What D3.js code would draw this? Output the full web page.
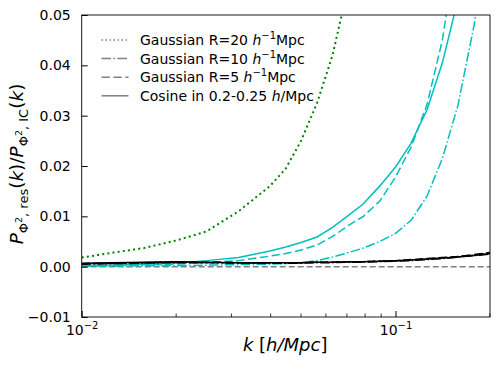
<!DOCTYPE html>
<html>
<head>
<meta charset="utf-8">
<script src="https://cdn.jsdelivr.net/npm/d3@7"></script>
<style>
  html, body { margin: 0; padding: 0; background: #fff; }
  svg { display: block; font-family: "DejaVu Sans", sans-serif; }
</style>
</head>
<body>
<svg id="chart" width="498" height="369"></svg>
<script>
// residual / IC power ratio for several smoothing filters

const K = [0.010, 0.0126, 0.0158, 0.020, 0.025, 0.0316, 0.0398, 0.0447, 0.050, 0.0562,
           0.063, 0.0708, 0.079, 0.089, 0.100, 0.112, 0.126, 0.141, 0.158, 0.178, 0.200];

// green, dotted: Gaussian R=20
const gaussR20Green = [0.0018, 0.0028, 0.0037, 0.0052, 0.0070, 0.0110, 0.0160, 0.0195, 0.0250, 0.0325,
                       0.0420, 0.0560];

// cyan set
const cosineCyan   = [0.0002, 0.0003, 0.0005, 0.0007, 0.0012, 0.0018, 0.0031, 0.0039, 0.0048, 0.0059,
                      0.0078, 0.0102, 0.0125, 0.0160, 0.0198, 0.0245, 0.0312, 0.0405, 0.0530, 0.0700];
const gaussR5Cyan  = [0.0002, 0.0003, 0.0004, 0.0005, 0.0008, 0.0012, 0.0021, 0.0026, 0.0033, 0.0043,
                      0.0060, 0.0082, 0.0100, 0.0130, 0.0178, 0.0237, 0.0322, 0.0450, 0.0650];
const gaussR10Cyan = [0.0001, 0.0001, 0.0002, 0.0002, 0.0003, 0.0004, 0.0005, 0.0006, 0.0008, 0.0012,
                      0.0019, 0.0028, 0.0037, 0.0050, 0.0066, 0.0092, 0.0140, 0.0215, 0.0320, 0.0480, 0.0690];

// black set, all close to zero
const cosineBlack   = [0.0007, 0.0008, 0.0009, 0.0010, 0.0009, 0.0008, 0.0008, 0.0008, 0.0008, 0.0009,
                       0.0009, 0.0010, 0.0010, 0.0011, 0.0012, 0.0013, 0.0015, 0.0017, 0.0019, 0.0022, 0.0026];
const gaussR5Black  = [0.0006, 0.0007, 0.0008, 0.0009, 0.0009, 0.0008, 0.0007, 0.0008, 0.0008, 0.0009,
                       0.0009, 0.0010, 0.0010, 0.0011, 0.0012, 0.0014, 0.0016, 0.0018, 0.0020, 0.0024, 0.0028];
const gaussR10Black = [0.0005, 0.0006, 0.0007, 0.0008, 0.0008, 0.0007, 0.0007, 0.0007, 0.0007, 0.0008,
                       0.0008, 0.0009, 0.0009, 0.0010, 0.0011, 0.0012, 0.0014, 0.0016, 0.0019, 0.0022, 0.0025];
const gaussR20Black = [0.0006, 0.0007, 0.0008, 0.0009, 0.0008, 0.0008, 0.0008, 0.0008, 0.0008, 0.0009,
                       0.0009, 0.0010, 0.0010, 0.0011, 0.0012, 0.0013, 0.0015, 0.0017, 0.0020, 0.0023, 0.0027];

const Y_TICKS = [-0.01, 0.00, 0.01, 0.02, 0.03, 0.04, 0.05];
const X_MAJOR = [0.01, 0.1];
const X_MINOR = [0.02, 0.03, 0.04, 0.05, 0.06, 0.07, 0.08, 0.09, 0.2];

const DOT = "2,3.2", DASHDOT = "9.6,2.4,1.5,2.4", DASHED = "8.3,3.6";

const LEGEND = [
  { label: "Gaussian R=20 ", unit: "r", dash: "1.5,2.5" },
  { label: "Gaussian R=10 ", unit: "r", dash: DASHDOT },
  { label: "Gaussian R=5 ",  unit: "r", dash: DASHED },
  { label: "Cosine in 0.2-0.25 ", unit: "k", dash: null },
];

const CYAN = "#00bfbf", GREEN = "#008000";

const SERIES = [
  { v: cosineCyan,    color: CYAN,   dash: null,    w: 1.5 },
  { v: gaussR5Cyan,   color: CYAN,   dash: DASHED,  w: 1.5 },
  { v: gaussR10Cyan,  color: CYAN,   dash: DASHDOT, w: 1.5 },
  { v: gaussR20Black, color: "#000", dash: DOT,     w: 1.5 },
  { v: gaussR10Black, color: "#000", dash: DASHDOT, w: 1.5 },
  { v: gaussR5Black,  color: "#000", dash: DASHED,  w: 1.5 },
  { v: cosineBlack,   color: "#000", dash: null,    w: 1.5 },
  { v: gaussR20Green, color: GREEN,  dash: DOT,     w: 2 },
];

// ── Layout ────────────────────────────────────────────────────
const W = 498, H = 369;
const margin = { left: 81.7, right: 8, top: 15, bottom: 52 };
const iW = W - margin.left - margin.right;
const iH = H - margin.top - margin.bottom;

const svg = d3.select("#chart");
const g = svg.append("g").attr("transform", `translate(${margin.left},${margin.top})`);

const xs = d3.scaleLog().domain([0.01, 0.2]).range([0, iW]);
const ys = d3.scaleLinear().domain([-0.01, 0.05]).range([iH, 0]);

g.append("clipPath").attr("id", "clip")
  .append("rect").attr("width", iW).attr("height", iH);

const plot = g.append("g").attr("clip-path", "url(#clip)");

// zero reference line
plot.append("line")
  .attr("x1", 0).attr("x2", iW)
  .attr("y1", ys(0)).attr("y2", ys(0))
  .attr("stroke", "#808080").attr("stroke-width", 1.5)
  .attr("stroke-dasharray", "6,3");

const line = d3.line().x(d => xs(d[0])).y(d => ys(d[1]));

SERIES.forEach(s => {
  plot.append("path")
    .attr("d", line(s.v.map((v, i) => [K[i], v])))
    .attr("fill", "none")
    .attr("stroke", s.color)
    .attr("stroke-width", s.w)
    .attr("stroke-dasharray", s.dash);
});

// ── Frame and ticks ───────────────────────────────────────────
g.append("rect").attr("width", iW).attr("height", iH)
  .attr("fill", "none").attr("stroke", "#000").attr("stroke-width", 0.9);

const yAxis = g.append("g")
  .call(d3.axisLeft(ys).tickValues(Y_TICKS).tickSize(-6).tickPadding(11)
    .tickFormat(d => (d < 0 ? "\u2212" : "") + d3.format(".2f")(Math.abs(d))));
yAxis.select(".domain").remove();
yAxis.selectAll("text").attr("font-size", "14px").attr("fill", "#000")
  .attr("font-family", "DejaVu Sans, sans-serif");

const xAxis = g.append("g").attr("transform", `translate(0,${iH})`)
  .call(d3.axisBottom(xs).tickValues(X_MAJOR).tickSize(-6).tickPadding(8).tickFormat(""));
xAxis.select(".domain").remove();
xAxis.selectAll(".tick").each(function(d) {
  const t = d3.select(this).append("text")
    .attr("y", 18).attr("text-anchor", "middle")
    .attr("fill", "#000").attr("font-size", "14px")
    .attr("font-family", "DejaVu Sans, sans-serif");
  t.append("tspan").text("10");
  t.append("tspan").attr("dy", -6).attr("font-size", "10px")
    .text("\u2212" + Math.round(-Math.log10(d)));
});

X_MINOR.forEach(k => {
  g.append("line")
    .attr("x1", xs(k)).attr("x2", xs(k))
    .attr("y1", iH).attr("y2", iH - 3.5)
    .attr("stroke", "#000").attr("stroke-width", 0.8);
});

// ── Axis labels ───────────────────────────────────────────────
const xl = svg.append("text")
  .attr("x", margin.left + xs(0.0445)).attr("y", 351)
  .attr("text-anchor", "middle").attr("font-size", "18px").attr("fill", "#000");
xl.append("tspan").attr("font-style", "italic").text("k");
xl.append("tspan").text(" [");
xl.append("tspan").attr("font-style", "italic").text("h/Mpc");
xl.append("tspan").text("]");

const yl = svg.append("text")
  .attr("transform", `translate(23,164) rotate(-90)`)
  .attr("text-anchor", "middle").attr("font-size", "18.5px").attr("fill", "#000");
function subPart(txt) {
  yl.append("tspan").attr("font-style", "italic").text("P");
  yl.append("tspan").attr("dy", 5).attr("font-size", "13px").text("\u03A6");
  yl.append("tspan").attr("dy", -6).attr("font-size", "9.5px").text("2");
  yl.append("tspan").attr("dy", 6).attr("font-size", "13px").text(", " + txt);
  yl.append("tspan").attr("dy", -5).text("(");
  yl.append("tspan").attr("font-style", "italic").text("k");
  yl.append("tspan").text(")");
}
subPart("res");
yl.append("tspan").text("/");
subPart("IC");

// ── Legend ────────────────────────────────────────────────────
const lg = svg.append("g").attr("transform", "translate(101.5,40)");
LEGEND.forEach((d, i) => {
  const row = lg.append("g").attr("transform", `translate(0,${i * 18.6})`);
  row.append("line").attr("x1", 0).attr("x2", 27)
    .attr("stroke", "#808080").attr("stroke-width", 1.5)
    .attr("stroke-dasharray", d.dash);
  const t = row.append("text").attr("x", 38.5).attr("y", 5)
    .attr("font-size", "14px").attr("fill", "#000");
  t.append("tspan").text(d.label);
  t.append("tspan").attr("font-style", "italic").text("h");
  if (d.unit === "r") {
    t.append("tspan").attr("dy", -6).attr("font-size", "10px").text("\u22121");
    t.append("tspan").attr("dy", 6).text("Mpc");
  } else {
    t.append("tspan").text("/Mpc");
  }
});
</script>
</body>
</html>
